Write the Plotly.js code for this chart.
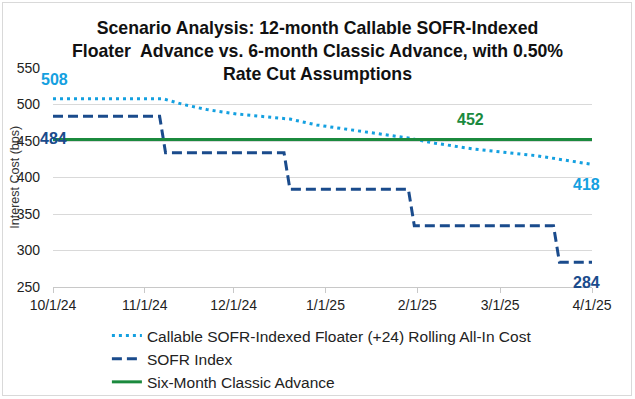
<!DOCTYPE html>
<html><head><meta charset="utf-8">
<script src="https://cdn.plot.ly/plotly-3.0.1.min.js"></script>
<style>
html,body{margin:0;padding:0;background:#fff;}
#wrap{position:absolute;left:2px;top:2px;width:628px;height:392px;border:1px solid #d9d9d9;}
#chart{position:absolute;left:-3px;top:-3px;width:635px;height:399px;}
</style></head>
<body><div id="wrap"><div id="chart"></div></div>
<script>
const titleLines = ["Scenario Analysis: 12-month Callable SOFR-Indexed", "Floater&nbsp; Advance vs. 6-month Classic Advance, with 0.50%", "Rate Cut Assumptions"];
const callableDates = ["2024-10-01","2024-11-07","2024-11-14","2024-11-22","2024-12-02","2024-12-12","2024-12-20","2024-12-29","2025-01-29","2025-02-07","2025-02-20","2025-03-13","2025-04-01"];
const callableVals  = [508,508,500,493,487,483,480,472,454,447,439,430,418];
const sofrDates = ["2024-10-01","2024-11-06","2024-11-08","2024-12-18","2024-12-20","2025-01-29","2025-01-31","2025-03-19","2025-03-21","2025-04-01"];
const sofrVals  = [484,484,434,434,384,384,334,334,284,284];
const classicDates = ["2024-10-01","2025-04-01"];
const classicVals  = [452,452];
const seriesNames = ["Callable SOFR-Indexed Floater (+24) Rolling All-In Cost","SOFR Index","Six-Month Classic Advance"];
const tickDates = ["2024-10-01","2024-11-01","2024-12-01","2025-01-01","2025-02-01","2025-03-01","2025-04-01"];
const tickLabels = ["10/1/24","11/1/24","12/1/24","1/1/25","2/1/25","3/1/25","4/1/25"];
const yTicks = [250,300,350,400,450,500,550];
const yTitle = "Interest Cost (bps)";

const F = "'Liberation Sans', Arial, sans-serif";
const cLight = "#14A0E0", cDark = "#1A4B8C", cGreen = "#1B8A3E";

const traces = [
  {x: callableDates, y: callableVals, name: seriesNames[0], mode: "lines", line: {color: cLight, width: 3, dash: "3px,4px"}},
  {x: sofrDates, y: sofrVals, name: seriesNames[1], mode: "lines", line: {color: cDark, width: 3, dash: "10px,5px"}},
  {x: classicDates, y: classicVals, name: seriesNames[2], mode: "lines", line: {color: cGreen, width: 3}}
];

const last = a => a[a.length-1];
const labels = [
  {x: callableDates[0], y: callableVals[0], text: String(callableVals[0]), c: cLight, yshift: 19, xshift: 1},
  {x: sofrDates[0], y: sofrVals[0], text: String(sofrVals[0]), c: cDark, yshift: -22, xshift: 0},
  {x: "2025-02-19", y: classicVals[0], text: String(classicVals[0]), c: cGreen, yshift: 20, xshift: 0},
  {x: last(callableDates), y: last(callableVals), text: String(last(callableVals)), c: cLight, yshift: -20, xshift: -6},
  {x: last(sofrDates), y: last(sofrVals), text: String(last(sofrVals)), c: cDark, yshift: -20, xshift: -6}
];
const annotations = labels.map(a => ({showarrow: false, xref: "x", yref: "y", x: a.x, y: a.y, text: a.text,
  yshift: a.yshift, xshift: a.xshift, font: {family: F, size: 16, color: a.c, weight: "bold"}}));
annotations.push({showarrow: false, xref: "paper", yref: "paper", x: -0.072, y: 0.5, xanchor: "center", yanchor: "middle",
  text: yTitle, textangle: -90, font: {family: F, size: 12.5, color: "#333"}});

const layout = {
  width: 635, height: 399,
  margin: {l: 53, r: 43, t: 68, b: 112, autoexpand: false},
  paper_bgcolor: "rgba(0,0,0,0)", plot_bgcolor: "rgba(0,0,0,0)",
  font: {family: F, color: "#222"},
  title: {text: "<b>" + titleLines.join("<br>") + "</b>", x: 0.5, xanchor: "center", y: 0.9145, yanchor: "top",
          font: {family: F, size: 17.7, color: "#111"}},
  xaxis: {type: "date", range: ["2024-10-01","2025-04-01"], tickvals: tickDates, ticktext: tickLabels,
          showgrid: false, showline: true, linecolor: "#c8c8c8", linewidth: 1,
          ticks: "outside", ticklen: 5, tickcolor: "#c8c8c8", tickfont: {family: F, size: 14, color: "#222"}, zeroline: false},
  yaxis: {range: [250, 550], tickvals: yTicks, showgrid: true, gridcolor: "#d9d9d9", gridwidth: 1,
          showline: false, zeroline: false, ticks: "", ticklabelstandoff: 12, tickfont: {family: F, size: 14, color: "#222"}},
  showlegend: true,
  legend: {orientation: "v", x: 0.1, xanchor: "left", y: -0.146, yanchor: "top",
           font: {family: F, size: 15.5, color: "#222"}, tracegroupgap: 0, bgcolor: "rgba(0,0,0,0)"},
  annotations: annotations
};
Plotly.newPlot("chart", traces, layout, {displayModeBar: false, staticPlot: true});
</script></body></html>
